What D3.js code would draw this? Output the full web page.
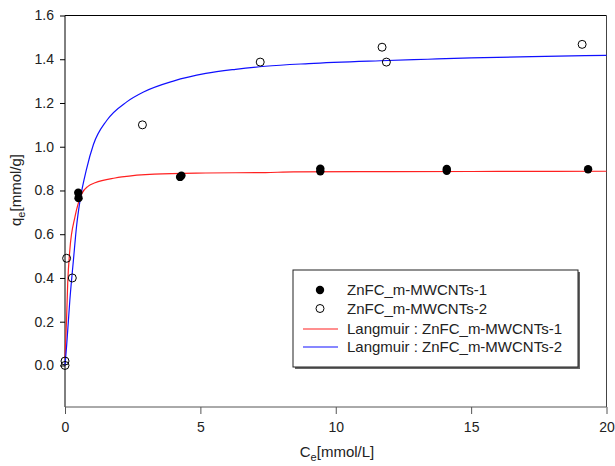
<!DOCTYPE html>
<html>
<head>
<meta charset="utf-8">
<script src="https://cdn.jsdelivr.net/npm/d3@7"></script>
<style>
  body { margin: 0; background: #fff; }
  text { font-family: "Liberation Sans", Arial, sans-serif; fill: #222; }
</style>
</head>
<body>
<svg id="chart"></svg>
<script>
var series1 = [[0.49, 0.79], [0.50, 0.765], [4.25, 0.862], [4.30, 0.868], [9.43, 0.888], [9.43, 0.900],
  [14.1, 0.890], [14.1, 0.898], [19.32, 0.897]]
var series2 = [[0, 0.0], [0, 0.02], [0.06, 0.49], [0.27, 0.40], [2.86, 1.10], [7.21, 1.387],
  [11.71, 1.455], [11.87, 1.387], [19.1, 1.468]]

// Langmuir fit curves
var langmuir1 = [[0, 0.03], [0.06, 0.22], [0.1, 0.375], [0.18, 0.53], [0.37, 0.68], [0.62, 0.785],
  [0.86, 0.82], [1.11, 0.835], [1.85, 0.857], [2.1, 0.862], [3.3, 0.875], [5.2, 0.88], [7.4, 0.882],
  [8.44, 0.885], [12, 0.886], [16, 0.887], [20, 0.888]]
var langmuir2 = [[0, 0.0], [0.06, 0.09], [0.18, 0.30], [0.31, 0.48], [0.43, 0.64], [0.55, 0.75],
  [0.8, 0.9], [1.05, 1.01], [1.54, 1.12], [2.28, 1.205], [2.9, 1.25], [4.0, 1.30], [5.2, 1.335],
  [6.3, 1.354], [7.4, 1.368], [9, 1.38], [11.65, 1.393], [13.4, 1.40], [15, 1.406], [17.25, 1.412], [20, 1.418]]

var xTicks = [0, 5, 10, 15, 20]
var yTicks = [0, 0.2, 0.4, 0.6, 0.8, 1.0, 1.2, 1.4, 1.6]
var legendLabels = ["ZnFC_m-MWCNTs-1", "ZnFC_m-MWCNTs-2", "Langmuir : ZnFC_m-MWCNTs-1", "Langmuir : ZnFC_m-MWCNTs-2"]

var screen = {width: 615, height: 466}
var plot = {left: 65, right: 606.5, top: 15.5, bottom: 407}

var svg = d3.select("#chart")
  .attr("width", screen.width)
  .attr("height", screen.height)

var xScale = d3.scaleLinear().domain([0, 20]).range([plot.left, plot.right])
var yScale = d3.scaleLinear().domain([-0.19, 1.6]).range([plot.bottom, plot.top])

// frame
svg.append("line").attr("x1", plot.left).attr("x2", plot.right).attr("y1", plot.top).attr("y2", plot.top)
  .attr("stroke", "#000")
svg.append("line").attr("x1", plot.right).attr("x2", plot.right).attr("y1", plot.top).attr("y2", plot.bottom)
  .attr("stroke", "#444")

var yAxis = d3.axisLeft(yScale).tickValues(yTicks).tickFormat(d3.format(".1f")).tickSize(5).tickPadding(6)
var gy = svg.append("g").attr("transform", "translate(" + plot.left + ",0)").call(yAxis)
gy.select(".domain").attr("d", "M0," + plot.top + "V" + plot.bottom).attr("stroke", "#000")
gy.selectAll("text").style("font-size", "14px").attr("fill", "#222")

var xAxis = d3.axisBottom(xScale).tickValues(xTicks).tickSize(7).tickPadding(8)
var gx = svg.append("g").attr("transform", "translate(0," + plot.bottom + ")").call(xAxis)
gx.select(".domain").attr("d", "M" + plot.left + ",0H" + plot.right).attr("stroke", "#555")
gx.selectAll("line").attr("stroke", "#555")
gx.selectAll("text").style("font-size", "14px").attr("fill", "#222")

// curves
var line = d3.line()
  .x(function(d){ return xScale(d[0]) })
  .y(function(d){ return yScale(d[1]) })
  .curve(d3.curveMonotoneX)

svg.append("path").datum(langmuir1).attr("d", line)
  .attr("fill", "none").attr("stroke", "#ff2020").attr("stroke-width", 1.2)
svg.append("path").datum(langmuir2).attr("d", line)
  .attr("fill", "none").attr("stroke", "#1010ff").attr("stroke-width", 1.2)

// points
svg.selectAll(".s1").data(series1).enter().append("circle")
  .attr("class", "s1")
  .attr("cx", function(d){ return xScale(d[0]) })
  .attr("cy", function(d){ return yScale(d[1]) })
  .attr("r", 4.2)
  .attr("fill", "#000")

svg.selectAll(".s2").data(series2).enter().append("circle")
  .attr("class", "s2")
  .attr("cx", function(d){ return xScale(d[0]) })
  .attr("cy", function(d){ return yScale(d[1]) })
  .attr("r", 4)
  .attr("fill", "none")
  .attr("stroke", "#000")
  .attr("stroke-width", 1)

// axis titles
var ylab = svg.append("text")
  .attr("transform", "translate(21,190) rotate(-90)")
  .attr("text-anchor", "middle")
  .style("font-size", "15px")
ylab.append("tspan").text("q")
ylab.append("tspan").text("e").style("font-size", "11px").attr("dy", 4)
ylab.append("tspan").text("[mmol/g]").attr("dy", -4)

var xlab = svg.append("text")
  .attr("x", 337).attr("y", 457)
  .attr("text-anchor", "middle")
  .style("font-size", "15px")
xlab.append("tspan").text("C")
xlab.append("tspan").text("e").style("font-size", "11px").attr("dy", 4)
xlab.append("tspan").text("[mmol/L]").attr("dy", -4)

// legend
var legend = svg.append("g").attr("transform", "translate(293,270)")
legend.append("rect").attr("x", 2).attr("y", 2).attr("width", 285).attr("height", 97).attr("fill", "#666")
legend.append("rect").attr("x", 0).attr("y", 0).attr("width", 285).attr("height", 97)
  .attr("fill", "#fff").attr("stroke", "#222")

var rowsY = [20, 38.5, 59, 77]
legend.append("circle").attr("cx", 27).attr("cy", rowsY[0]).attr("r", 4.2).attr("fill", "#000")
legend.append("circle").attr("cx", 27).attr("cy", rowsY[1]).attr("r", 4).attr("fill", "none").attr("stroke", "#000")
legend.append("line").attr("x1", 10).attr("x2", 45).attr("y1", rowsY[2]).attr("y2", rowsY[2])
  .attr("stroke", "#ff2020").attr("stroke-width", 1.2)
legend.append("line").attr("x1", 10).attr("x2", 45).attr("y1", rowsY[3]).attr("y2", rowsY[3])
  .attr("stroke", "#1010ff").attr("stroke-width", 1.2)

legend.selectAll(".lt").data(legendLabels).enter().append("text")
  .attr("class", "lt")
  .attr("x", 54)
  .attr("y", function(d, i){ return rowsY[i] + 5 })
  .style("font-size", "15px")
  .text(function(d){ return d })
</script>
</body>
</html>
